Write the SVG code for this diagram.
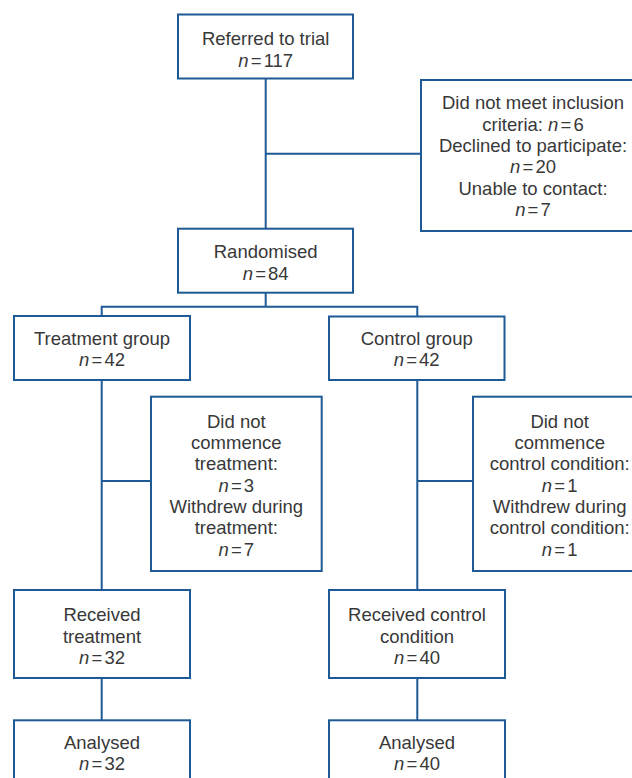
<svg xmlns="http://www.w3.org/2000/svg" width="632" height="778" viewBox="0 0 632 778">
<style>
  .box { fill: #ffffff; stroke: #1d5a96; stroke-width: 2; }
  .conn { fill: none; stroke: #1d5a96; stroke-width: 2; }
  text { font-family: "Liberation Sans", Arial, sans-serif; font-size: 18.5px; fill: #383838; text-anchor: middle; }
  .i { font-style: italic; }
  .n { word-spacing: -3px; }
</style>
<rect x="0" y="0" width="632" height="778" fill="#ffffff"/>
<g id="connectors">
  <path class="conn" d="M265.7 78.5 V228.7"/>
  <path class="conn" d="M265.7 153.7 H421"/>
  <path class="conn" d="M265.7 292.7 V306.7"/>
  <path class="conn" d="M101.7 316 V306.7 H417.3 V316.5"/>
  <path class="conn" d="M101.7 380 V590"/>
  <path class="conn" d="M101.7 481 H151"/>
  <path class="conn" d="M417.3 380 V590"/>
  <path class="conn" d="M417.3 481 H473"/>
  <path class="conn" d="M101.7 678 V720.3"/>
  <path class="conn" d="M417.3 678 V720.3"/>
</g>
<g id="referred">
  <rect class="box" x="178" y="14.5" width="175" height="64"/>
  <text x="265.7" y="45">Referred to trial</text>
  <text class="n" x="265.7" y="66.7"><tspan class="i">n</tspan> = 117</text>
</g>
<g id="excluded">
  <rect class="box" x="421" y="80" width="224" height="151"/>
  <text x="533" y="109.3">Did not meet inclusion</text>
  <text x="533" y="130.7">criteria: <tspan class="n"><tspan class="i">n</tspan> = 6</tspan></text>
  <text x="533" y="152">Declined to participate:</text>
  <text class="n" x="533" y="173.3"><tspan class="i">n</tspan> = 20</text>
  <text x="533" y="194.7">Unable to contact:</text>
  <text class="n" x="533" y="216"><tspan class="i">n</tspan> = 7</text>
</g>
<g id="randomised">
  <rect class="box" x="178" y="228.7" width="175" height="64"/>
  <text x="265.7" y="258.3">Randomised</text>
  <text class="n" x="265.7" y="279.5"><tspan class="i">n</tspan> = 84</text>
</g>
<g id="treatment-group">
  <rect class="box" x="14" y="316" width="176" height="64"/>
  <text x="102" y="345">Treatment group</text>
  <text class="n" x="102" y="366"><tspan class="i">n</tspan> = 42</text>
</g>
<g id="control-group">
  <rect class="box" x="329" y="316.5" width="175.5" height="63.5"/>
  <text x="416.7" y="345">Control group</text>
  <text class="n" x="416.7" y="366"><tspan class="i">n</tspan> = 42</text>
</g>
<g id="treatment-dropout">
  <rect class="box" x="151" y="396.7" width="170.7" height="174.3"/>
  <text x="236.3" y="427.7">Did not</text>
  <text x="236.3" y="449">commence</text>
  <text x="236.3" y="470.3">treatment:</text>
  <text class="n" x="236.3" y="491.7"><tspan class="i">n</tspan> = 3</text>
  <text x="236.3" y="513">Withdrew during</text>
  <text x="236.3" y="534.3">treatment:</text>
  <text class="n" x="236.3" y="555.7"><tspan class="i">n</tspan> = 7</text>
</g>
<g id="control-dropout">
  <rect class="box" x="473" y="396.7" width="171" height="174.3"/>
  <text x="559.7" y="427.7">Did not</text>
  <text x="559.7" y="449">commence</text>
  <text x="559.7" y="470.3">control condition:</text>
  <text class="n" x="559.7" y="491.7"><tspan class="i">n</tspan> = 1</text>
  <text x="559.7" y="513">Withdrew during</text>
  <text x="559.7" y="534.3">control condition:</text>
  <text class="n" x="559.7" y="555.7"><tspan class="i">n</tspan> = 1</text>
</g>
<g id="received-treatment">
  <rect class="box" x="14" y="590" width="176" height="88"/>
  <text x="102" y="621">Received</text>
  <text x="102" y="642.7">treatment</text>
  <text class="n" x="102" y="664.3"><tspan class="i">n</tspan> = 32</text>
</g>
<g id="received-control">
  <rect class="box" x="329" y="590" width="176" height="88"/>
  <text x="417" y="621">Received control</text>
  <text x="417" y="642.7">condition</text>
  <text class="n" x="417" y="664.3"><tspan class="i">n</tspan> = 40</text>
</g>
<g id="analysed-treatment">
  <rect class="box" x="14" y="720.3" width="176" height="80"/>
  <text x="102" y="749.3">Analysed</text>
  <text class="n" x="102" y="770"><tspan class="i">n</tspan> = 32</text>
</g>
<g id="analysed-control">
  <rect class="box" x="329" y="720.3" width="176" height="80"/>
  <text x="417" y="749.3">Analysed</text>
  <text class="n" x="417" y="770"><tspan class="i">n</tspan> = 40</text>
</g>
</svg>
